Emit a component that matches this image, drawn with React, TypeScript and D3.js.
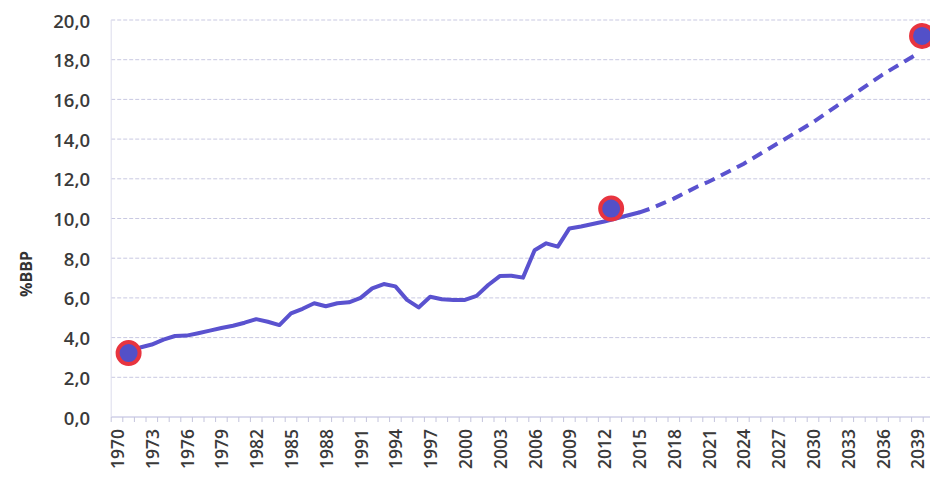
import * as d3 from "d3";
import React from "react";

// historical series (% BBP), 1971-2015
const histYears = [
  1971, 1972, 1973, 1974, 1975, 1976, 1977, 1978, 1979, 1980, 1981, 1982, 1983, 1984, 1985,
  1986, 1987, 1988, 1989, 1990, 1991, 1992, 1993, 1994, 1995, 1996, 1997, 1998, 1999, 2000,
  2001, 2002, 2003, 2004, 2005, 2006, 2007, 2008, 2009, 2010, 2011, 2012, 2013, 2014, 2015,
];
const histValues = [
  3.25, 3.5, 3.65, 3.9, 4.08, 4.1, 4.22, 4.35, 4.48, 4.6, 4.75, 4.93, 4.8, 4.63, 5.22,
  5.45, 5.73, 5.58, 5.73, 5.78, 6.0, 6.48, 6.7, 6.58, 5.9, 5.52, 6.06, 5.93, 5.9, 5.9,
  6.1, 6.65, 7.1, 7.12, 7.02, 8.4, 8.75, 8.58, 9.5, 9.6, 9.72, 9.85, 10.0, 10.15, 10.3,
];

// projection (dashed), 2015-2039
const projYears = [
  2015, 2016, 2017, 2018, 2019, 2020, 2021, 2022, 2023, 2024, 2025, 2026, 2027,
  2028, 2029, 2030, 2031, 2032, 2033, 2034, 2035, 2036, 2037, 2038, 2039,
];
const projValues = [
  10.3, 10.5, 10.75, 11.0, 11.3, 11.6, 11.85, 12.15, 12.45, 12.75, 13.1, 13.45, 13.8,
  14.15, 14.5, 14.85, 15.25, 15.65, 16.05, 16.45, 16.85, 17.25, 17.6, 17.95, 18.3,
];

// highlighted points
const markerYears = [1971, 2012.6, 2039.4];
const markerValues = [3.22, 10.5, 19.2];

const yTicks = [0, 2, 4, 6, 8, 10, 12, 14, 16, 18, 20];
const firstYear = 1970;
const lastYear = 2040;
const labelStep = 3;

const W = 930;
const H = 482;
const FONT = "'Open Sans', 'DejaVu Sans', sans-serif";

export default function App() {
  const band = 11.6;
  const x0 = 111.2;
  const x = d3
    .scaleLinear()
    .domain([firstYear - 0.5, lastYear + 0.5])
    .range([x0, x0 + (lastYear - firstYear + 1) * band]);
  const y = d3.scaleLinear().domain([0, 20]).range([417, 20]);

  const line = d3
    .line<[number, number]>()
    .x((d) => x(d[0]))
    .y((d) => y(d[1]));

  const hist = histYears.map((yr, i) => [yr, histValues[i]] as [number, number]);
  const proj = projYears.map((yr, i) => [yr, projValues[i]] as [number, number]);

  const tickPos = d3.range(firstYear - 0.5, lastYear + 1, 1);
  const labelYears = d3.range(firstYear, lastYear, labelStep);

  const lineColor = "#5a52cf";

  return (
    <>
      <style>{"body{margin:0;background:#fff}"}</style>
      <svg width={W} height={H} style={{ display: "block" }} fontFamily={FONT}>
        <rect width={W} height={H} fill="#fff" />

        {/* horizontal grid */}
        {yTicks.map((t) => (
          <line
            key={t}
            x1={x0}
            x2={W}
            y1={y(t)}
            y2={y(t)}
            stroke={t === 0 ? "#b8b8dc" : "#c9c9e2"}
            strokeWidth={1}
            strokeDasharray={t === 0 ? undefined : "4 2"}
          />
        ))}

        {/* vertical axis line */}
        <line x1={x0} x2={x0} y1={y(20)} y2={y(0)} stroke="#dcdcec" strokeWidth={1} />

        {/* x tick marks */}
        {tickPos.map((t) => (
          <line key={t} x1={x(t)} x2={x(t)} y1={y(0)} y2={y(0) + 5} stroke="#c4c4dc" strokeWidth={1} />
        ))}

        {/* y labels */}
        {yTicks.map((t) => (
          <text
            key={t}
            x={90}
            y={y(t)}
            textAnchor="end"
            dominantBaseline="central"
            fontSize={18.5}
            fontWeight={600}
            fill="#3a3a3a"
          >
            {t.toFixed(1).replace(".", ",")}
          </text>
        ))}

        {/* y axis title */}
        <text
          transform={`translate(26,274) rotate(-90)`}
          textAnchor="middle"
          dominantBaseline="central"
          fontSize={16}
          fontWeight={700}
          fill="#333"
        >
          %BBP
        </text>

        {/* x labels */}
        {labelYears.map((yr) => (
          <text
            key={yr}
            transform={`translate(${x(yr)},429) rotate(-90)`}
            textAnchor="end"
            dominantBaseline="central"
            fontSize={17.5}
            fontWeight={600}
            fill="#3a3a3a"
          >
            {yr}
          </text>
        ))}

        {/* series */}
        <path d={line(proj) ?? undefined} fill="none" stroke={lineColor} strokeWidth={4} strokeDasharray="11 7" />
        <path
          d={line(hist) ?? undefined}
          fill="none"
          stroke={lineColor}
          strokeWidth={4}
          strokeLinejoin="round"
          strokeLinecap="round"
        />

        {/* markers */}
        {markerYears.map((yr, i) => (
          <circle
            key={yr}
            cx={x(yr)}
            cy={y(markerValues[i])}
            r={11}
            fill="#5350c8"
            stroke="#e8343f"
            strokeWidth={4}
          />
        ))}
      </svg>
    </>
  );
}
